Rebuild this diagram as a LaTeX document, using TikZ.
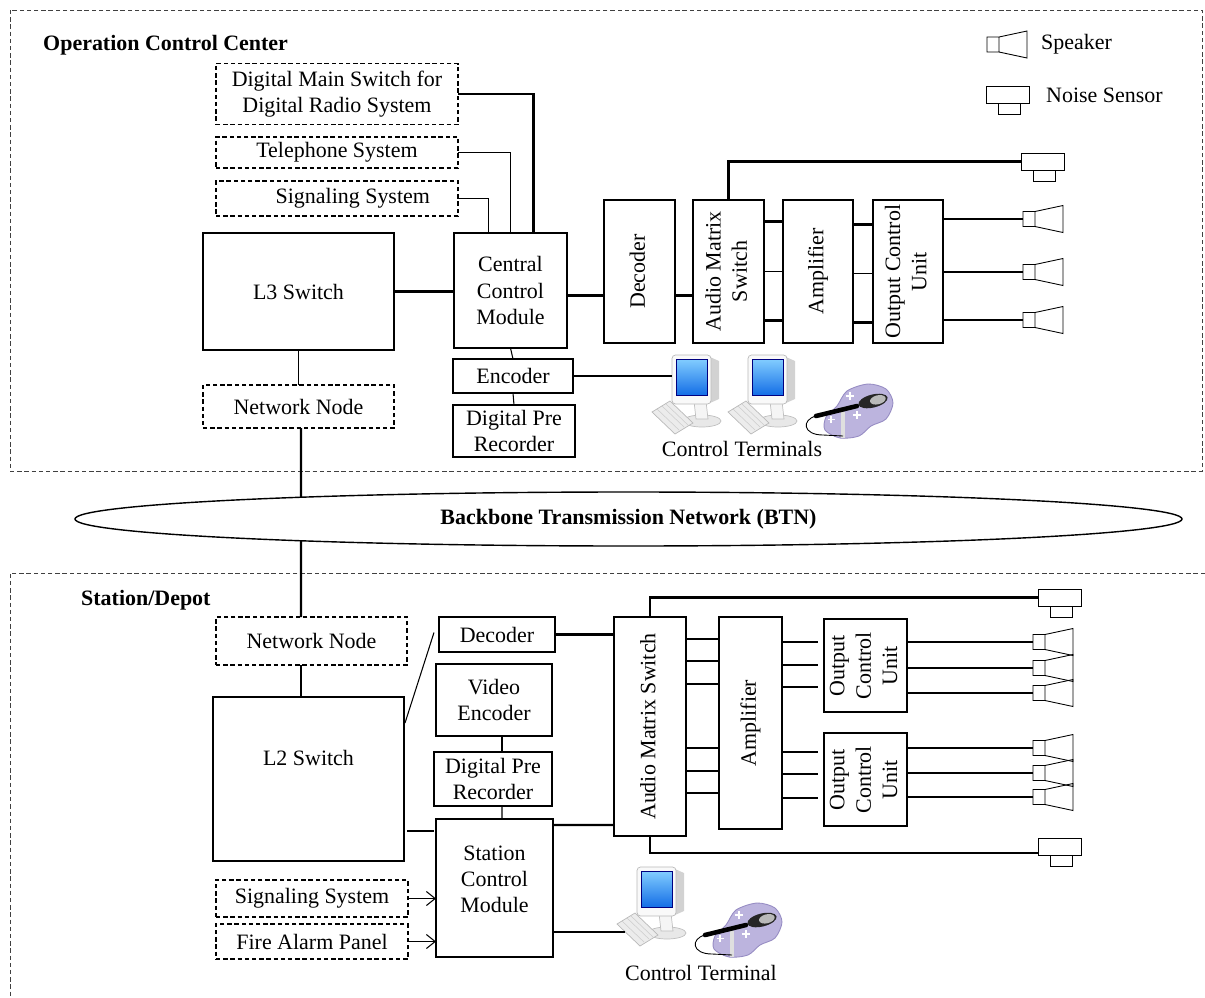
\documentclass[tikz,border=0pt]{standalone}
\usepackage{fontspec}
\setmainfont{Liberation Serif}
\usepackage{graphicx}
\usetikzlibrary{shapes.geometric,calc,arrows.meta}

% vertical text inside the tall boxes
\newcommand{\vtext}[1]{\rotatebox{90}{\begin{tabular}{@{}c@{}}#1\end{tabular}}}

\tikzset{
  speaker/.pic={
    \draw[line width=0.5pt] (0,-7.5) rectangle (12,7.5)
      (12,-7.5) -- (40,-13.5) -- (40,13.5) -- (12,7.5);
    \coordinate (-in) at (0,0);
  },
  noisesensor/.pic={
    \draw[line width=0.5pt] (0,0) rectangle (43,17) (12,17) rectangle (34,28);
    \coordinate (-in) at (0,8.5);
    \coordinate (-low) at (0,15);
  },
  terminal/.pic={
    % stand
    \draw[gray!50, fill=gray!18] (30,66) ellipse [x radius=19, y radius=6];
    \draw[gray!50, fill=gray!8] (22,46) -- (34,46) -- (36,64) -- (24,64) -- cycle;
    % monitor
    \fill[gray!35] (38,2) -- (47,6) -- (47,44) -- (38,48) -- cycle;
    \draw[gray!55, fill=gray!5, rounded corners=2pt] (0,0) rectangle (39,49);
    \shade[top color={rgb,255:red,130;green,205;blue,255}, bottom color={rgb,255:red,20;green,110;blue,230}]
      (4,4) rectangle (35,40);
    \draw[blue!50!black, line width=0.3pt] (4,4) rectangle (35,40);
    % keyboard
    \draw[gray!55, fill=gray!15] (-20,57) -- (-2,46) -- (21,68) -- (3,79) -- cycle;
    \draw[gray!40, line width=0.3pt] (-15,54) -- (7,75) (-10,51) -- (12,72) (-6,49) -- (16,70);
    \coordinate (-mon) at (0,23);
    \coordinate (-kb) at (-12,65);
  },
  microphone/.pic={
    \draw[line width=0.5pt, draw={rgb,255:red,150;green,140;blue,195}, fill={rgb,255:red,188;green,180;blue,222}]
      plot[smooth cycle] coordinates {(11,-27) (29,-22) (36,-8) (29,8) (14,15) (2,25) (-17,27) (-32,19) (-31,6) (-20,-5) (-10,-20)};
    \draw[white, line width=0.7pt] (-7,-19) -- (-7,-11) (-11,-15) -- (-3,-15)
      (0,0) -- (0,8) (-4,4) -- (4,4)
      (-26,5) -- (-26,12) (-29.5,8.5) -- (-22.5,8.5);
    \draw[gray!25, line width=1.8pt] (-14,1) -- (-14,27);
    \draw[line width=0.5pt] (-41,5) .. controls (-56,9) and (-54,24) .. (-34,24) -- (-14,25);
    \draw[line width=2.6pt, line cap=round] (-41,5) -- (0,-5);
    \fill[black!85, rotate around={14:(16,-10)}] (16,-10) ellipse [x radius=15, y radius=6.5];
    \fill[gray!55, rotate around={14:(16,-10)}] (21,-10) ellipse [x radius=8, y radius=4.5];
  }
}

\begin{document}
\begin{tikzpicture}[x=0.02cm, y=-0.02cm,
    font=\fontsize{12.5}{15}\selectfont,
    box/.style={draw, line width=0.6pt, inner sep=0pt, outer sep=0pt, align=center},
    dbox/.style={box, dash pattern=on 2.5pt off 1.6pt},
    wh/.style 2 args={minimum width=#1*0.02cm, minimum height=#2*0.02cm},
    wire/.style={line width=1.2pt},
    thinwire/.style={line width=0.6pt},
    arr/.style={-{Straight Barb[length=5pt,width=8pt]}, line width=0.6pt},
    head/.style={font=\fontsize{12.5}{15}\selectfont\bfseries},
    zone/.style={black!75, line width=0.5pt, dash pattern=on 2.5pt off 1.6pt}]

  \useasboundingbox (0,0) rectangle (1205,998);

  % the two areas
  \draw[zone] (10,10) rectangle (1202,471);
  \draw[zone] (1205,573) -- (10,573) -- (10,998);
  \node[head, anchor=west] (occ) at (37,45) {Operation Control Center};
  \node[head, anchor=west] (depot) at (75,600) {Station/Depot};

  % legend
  \pic (lgsp) at (987,44.5) {speaker};
  \node[anchor=west] (lgsptxt) at (1035,44) {Speaker};
  \pic (lgns) at (986,86) {noisesensor};
  \node[anchor=west] (lgnstxt) at (1040,95) {Noise Sensor};

  % operation control center
  \node[dbox, wh={242}{61}] (dms) at (337,94) {Digital Main Switch for\\Digital Radio System};
  \node[dbox, wh={242}{31}] (tel) at (337,152.5) {Telephone System};
  \node[dbox, wh={242}{35}] (sig) at (337,198.5) {\hspace{18pt}Signaling System};
  \node[box, wh={191}{117}] (l3) at (298.5,291.5) {L3 Switch};
  \node[box, wh={113}{115}] (ccm) at (510.5,290.5) {Central\\Control\\Module};
  \node[box, wh={120}{34}] (enc) at (513,376) {Encoder};
  \node[box, wh={122}{52}] (dpr) at (514,431) {Digital Pre\\Recorder};
  \node[dbox, wh={191}{43}] (nn1) at (298.5,406.5) {Network Node};

  \node[box, wh={71}{143}] (dec1) at (639.5,271.5) {\vtext{Decoder}};
  \node[box, wh={71}{143}] (ams1) at (728.5,271.5) {\vtext{Audio Matrix\\Switch}};
  \node[box, wh={70}{143}] (amp1) at (818,271.5) {\vtext{Amplifier}};
  \node[box, wh={70}{143}] (ocu1) at (908,271.5) {\vtext{Output Control\\Unit}};

  \draw[wire] (dms.east) -| ($(ccm.north)+(23,0)$);
  \draw[thinwire] (tel.east) -| (ccm.north);
  \draw[thinwire] (sig.east) -| ($(ccm.north)+(-22,0)$);
  \draw[wire] (l3.east) -- (l3.east -| ccm.west);
  \draw[thinwire] (l3.south) -- (nn1.north);
  \draw[thinwire] (ccm.south) -- (enc.north);
  \draw[thinwire] (enc.south) -- (dpr.north);

  \draw[wire] ($(ccm.east)+(0,5)$) -- ($(dec1.west)+(0,24)$);
  \draw[wire] ($(dec1.east)+(0,24)$) -- ($(ams1.west)+(0,24)$);
  \draw[wire] ($(ams1.east)+(0,-50)$) -- ($(amp1.west)+(0,-50)$);
  \draw[thinwire] (ams1.east) -- (amp1.west);
  \draw[wire] ($(ams1.east)+(0,49)$) -- ($(amp1.west)+(0,49)$);
  \draw[wire] ($(amp1.east)+(0,-47)$) -- ($(ocu1.west)+(0,-47)$);
  \draw[thinwire] ($(amp1.east)+(0,2)$) -- ($(ocu1.west)+(0,2)$);
  \draw[wire] ($(amp1.east)+(0,51)$) -- ($(ocu1.west)+(0,51)$);

  \foreach \y [count=\i] in {219,272,320} {
    \pic (sp\i) at (1023,\y) {speaker};
    \draw[wire] (sp\i-in -| ocu1.east) -- (sp\i-in);
  }
  \pic (ns1) at (1021,153) {noisesensor};
  \draw[wire] (ams1.north) |- (ns1-in);

  % control terminals
  \pic (tm1) at (672,355) {terminal};
  \pic (tm2) at (748,355) {terminal};
  \pic (mic1) at (857,411) {microphone};
  \node (ct1) at (742,449) {Control Terminals};
  \draw[wire] (enc.east) -- (enc.east -| tm1-mon);

  % station / depot
  \node[dbox, wh={191}{48}] (nn2) at (311.5,641) {Network Node};
  \node[box, wh={191}{164}, text depth=24pt] (l2) at (308.5,779) {L2 Switch};
  \node[box, wh={116}{35}] (dec2) at (497,634.5) {Decoder};
  \node[box, wh={116}{72}] (ve) at (494,700) {Video\\Encoder};
  \node[box, wh={118}{54}] (dpr2) at (493,779) {Digital Pre\\Recorder};
  \node[box, wh={117}{138}] (scm) at (494.5,888) {Station\\Control\\Module\\[-5pt]};
  \node[dbox, wh={192}{37}] (sig2) at (312,898.5) {Signaling System};
  \node[dbox, wh={192}{35}] (fap) at (312,941.5) {Fire Alarm Panel};
  \node[box, wh={72}{219}] (ams2) at (650,726.5) {\vtext{Audio Matrix Switch}};
  \node[box, wh={63}{212}] (amp2) at (750.5,723) {\vtext{Amplifier}};
  \node[box, wh={83}{93}] (ocu2) at (865.5,665.5) {\vtext{Output\\Control\\Unit}};
  \node[box, wh={83}{93}] (ocu3) at (865.5,779.5) {\vtext{Output\\Control\\Unit}};

  % backbone
  \draw[wire] ($(nn1.south)+(2.5,0)$) -- ($(nn2.north)+(-10.5,0)$);
  \node[draw, ellipse, line width=0.8pt, fill=white, inner sep=0pt, head,
    minimum width=1107*0.02cm, minimum height=54*0.02cm] (btn) at (628.5,519)
    {Backbone Transmission Network (BTN)};

  \draw[wire] ($(nn2.south)+(-10.5,0)$) -- ($(l2.north)+(-7.5,0)$);
  \draw[thinwire] ($(l2.north east)+(1,26)$) -- ($(dec2.west)+(-5,-2)$);
  \draw[wire] (dec2.east) -- (dec2.east -| ams2.west);
  \draw[thinwire] ($(ve.south)+(8,0)$) -- ($(dpr2.north)+(9,0)$);
  \draw[thinwire] ($(dpr2.south)+(9,0)$) -- ($(scm.north)+(7.5,0)$);
  \draw[wire] ($(l2.south east)+(3,-30)$) -- ($(scm.south west)+(-2,-126)$);
  \draw[wire] ($(scm.north east)+(0,6)$) -- ($(ams2.south west)+(0,-11)$);
  \draw[arr] (sig2.east) -- (sig2.east -| scm.west);
  \draw[arr] (fap.east) -- (fap.east -| scm.west);

  \foreach \dy in {22,44,67,131,154,176}
    \draw[thinwire] ($(ams2.north east)+(0,\dy)$) -- ($(amp2.north west)+(0,\dy)$);
  \foreach \dy in {25,48,70,135,157,181}
    \draw[thinwire] ($(amp2.north east)+(0,\dy)$) -- ++(36,0);

  \foreach \y [count=\i] in {642,668,693} {
    \pic (spa\i) at (1033,\y) {speaker};
    \draw[thinwire] (spa\i-in -| ocu2.east) -- (spa\i-in);
  }
  \foreach \y [count=\i] in {748,773,797} {
    \pic (spb\i) at (1033,\y) {speaker};
    \draw[thinwire] (spb\i-in -| ocu3.east) -- (spb\i-in);
  }
  \pic (ns2) at (1038,589) {noisesensor};
  \draw[wire] (ams2.north) |- (ns2-in);
  \pic (ns3) at (1038,838) {noisesensor};
  \draw[wire] (ams2.south) |- (ns3-low);

  \pic (tm3) at (637,867) {terminal};
  \pic (mic2) at (746,930) {microphone};
  \node (ct2) at (701,973) {Control Terminal};
  \draw[wire] (tm3-kb -| scm.east) -- (tm3-kb);
\end{tikzpicture}
\end{document}
